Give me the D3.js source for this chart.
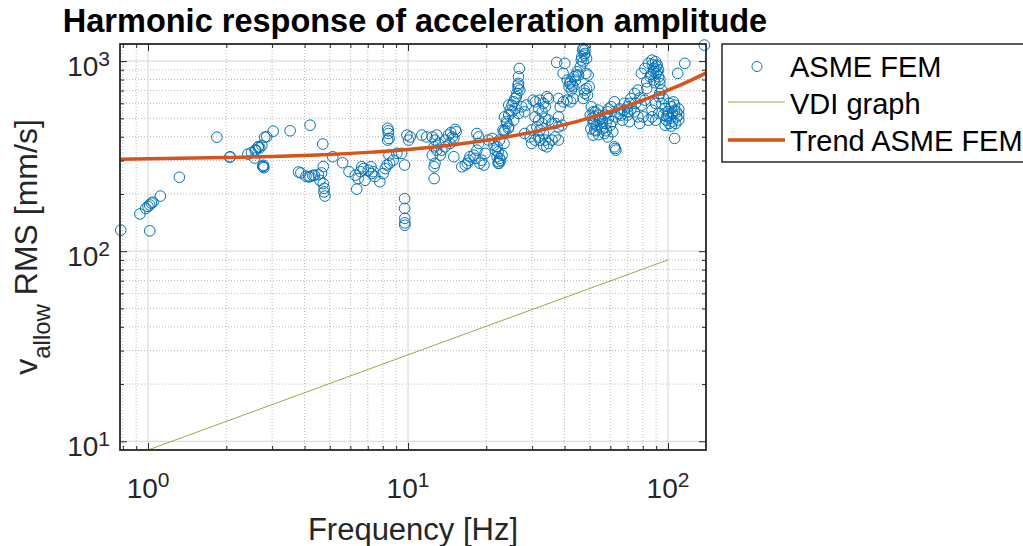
<!DOCTYPE html>
<html>
<head>
<meta charset="utf-8">
<script src="https://cdn.jsdelivr.net/npm/d3@7"></script>
<style>
  body { margin: 0; background: #fff; }
  text { font-family: "Liberation Sans", Arial, sans-serif; fill: #262626; }
</style>
</head>
<body>
<svg id="chart" width="1023" height="546"></svg>
<script>
// ASME FEM results [frequency Hz, v_allow RMS mm/s]
const asmePoints = [
  [0.785,129],[1.015,128],[0.93,157],[0.98,168],[1.015,175],[1.03,179],[1.045,181],[1.0,172],
  [1.115,195],[1.32,245],[1.84,398],[2.06,312],[2.07,314],[2.42,324],[2.5,330],[2.58,340],
  [2.57,309],[2.6,340],[2.65,352],[2.69,350],[2.66,355],[2.74,360],[2.81,398],[2.77,278],
  [2.78,283],[2.79,275],[2.76,280],[2.86,400],[3.03,428],[3.52,430],[3.79,261],[4.2,460],
  [4.7,366],[5.13,314],[5.6,292],[5.93,262],[6.35,212],[3.87,258],[4.05,248],[4.15,246],
  [4.2,247],[4.3,250],[4.36,251],[4.52,253],[4.65,258],[4.72,279],[4.58,236],[4.72,227],
  [4.76,214],[4.79,195],[4.75,205],[6.27,251],[6.56,262],[6.75,272],[6.43,241],[6.83,236],
  [7.03,267],[7.24,256],[7.45,247],[7.79,232],[7.2,278],[6.64,278],[7.35,262],[8.02,256],
  [8.35,443],[8.4,416],[8.45,392],[8.35,384],[8.4,430],[8.45,320],[8.3,284],[8.5,290],
  [8.17,272],[8.77,301],[9.06,327],[9.45,327],[9.7,284],[9.7,189],[9.7,168],[9.72,149],
  [9.72,141],[9.72,137],[9.9,408],[10.2,399],[10.05,384],
  [11.3,408],[11.8,399],[12.4,399],[12.9,408],[12.7,384],[13.1,369],[12.6,354],[12.9,340],
  [13.5,340],[12.4,320],[12.7,290],[12.6,278],[12.6,241],[13.3,320],[13.9,384],[14.3,408],
  [14.8,399],[15.2,437],[15.0,392],[14.5,369],[15.0,314],[13.9,354],[14.6,420],[15.3,425],
  [16.1,278],[16.6,284],[16.9,290],[17.1,301],[17.3,314],[17.9,320],[18.1,308],[18.4,340],
  [18.7,369],[18.7,399],[18.4,416],[18.9,290],[19.6,284],[19.2,301],[19.8,327],[20.4,384],
  [21.1,392],[21.7,340],[22.0,314],[22.3,296],[22.7,301],[23.0,320],[22.4,290],[23.4,369],
  [22.0,354],[21.4,361],[22.2,333],[22.5,308],[22.2,290],[22.5,384],
  [23.6,434],[24.0,470],[24.4,520],[24.7,552],[25.1,587],[25.5,611],[25.8,636],[26.2,676],
  [26.5,718],[26.6,763],[26.6,827],[26.8,915],[26.5,748],[26.9,704],[26.1,649],[24.4,587],
  [25.1,541],[25.8,563],[26.6,530],[25.5,489],[23.4,425],[24.4,451],[23.9,480],[23.2,434],
  [24.3,443],[23.5,509],[27.4,575],[28.1,541],[28.5,587],[28.1,416],[29.5,399],[29.9,434],
  [30.3,623],[30.9,611],[32.2,623],[33.2,599],[33.7,575],[34.2,649],[34.7,636],[31.8,563],
  [32.8,541],[33.7,500],[34.7,489],[35.8,470],[36.8,470],[37.9,451],[31.3,451],[32.2,434],
  [33.2,416],[33.7,384],[34.7,369],[35.8,384],[36.8,399],[37.9,384],[32.2,384],[33.2,361],
  [34.2,354],[31.8,489],[30.8,509],[32.8,470],[30.8,384],[29.9,369],[31.8,399],[37.3,984],
  [37.9,636],[38.5,575],[37.9,509],[39.1,460],[39.6,611],[42.2,611],
  [40.1,973],[39.5,862],[41.0,794],[41.9,763],[43.1,733],[42.5,704],[40.9,623],[43.1,636],
  [44.3,844],[47.0,1143],[47.6,1075],[46.4,1012],[48.3,862],[49.8,733],[47.6,704],[49.0,662],
  [47.2,1166],[47.9,1097],[48.6,1033],[47.2,992],[46.0,933],[44.7,879],[43.5,827],[42.2,778],
  [41.6,733],[42.8,748],[44.1,794],[45.3,844],[46.6,1053],[47.9,1143],[49.3,844],[48.6,718],
  [47.9,676],[47.2,636],
  [50.7,575],[51.5,541],[52.3,509],[51.5,470],[52.3,434],[51.5,408],[53.9,552],[54.6,489],
  [55.4,451],[57.0,416],[58.6,399],[57.8,470],[58.6,541],[60.4,575],[62.2,611],[63.0,509],
  [61.3,425],[62.2,354],[63.0,340],[62.6,347],[50.2,520],[51,500],[52,480],[53,460],
  [53,430],[54,520],[55,500],[56,440],[56,480],[57,520],[58,430],[59,500],[60,460],[61,480],
  [50.5,440],[52.5,540],[54,410],[59,560],
  [65.0,530],[66.8,489],[67.8,552],[69.9,575],[71.0,599],[72.0,636],[74.3,676],[76.6,704],
  [65,560],[68,600],[72,560],[75,600],[78,640],[66,520],[70,540],
  [79.0,862],[81.5,915],[84.1,973],[86.8,1012],[89.6,992],[91.0,953],[88.2,915],[91.0,879],
  [92.0,827],[93.0,763],[94.5,704],[92.0,649],[89.6,599],[86.8,552],[89.6,489],[92.0,530],
  [81.5,623],[79.0,587],[76.6,509],[74.3,541],[71.0,480],[69.9,520],[87,960],[90,940],
  [92,900],[88,880],[86,850],[90,860],[93,800],[89,770],
  [94.5,599],[97.5,563],[100,541],[103,575],[106,587],[108,509],[104,480],[101,470],
  [98.5,489],[97.5,460],[106,392],[100,520],[102,500],[104,530],[106,550],[108,540],
  [110,520],[110,490],[107,470],[103,455],[99,510],[96,520],[101,600],[105,610],[110,560],
  [109,862],[116,973],[138,1214],[84.1,489],[86.8,509],[80.2,509],[77.8,470],[82.8,778],
  [82.8,718],[85.4,827],[88.2,794],[93.0,676],[96.0,636]
];

// VDI guideline, read at a few frequencies
const vdiFreq = [1, 10, 100];
const vdiVel = [9, 28.5, 90];

// trend of the ASME FEM results
const trendFreq = [0.78, 1, 2, 3, 5, 7, 10, 15, 20, 30, 40, 50, 60, 70, 80, 90, 100, 120, 140];
const trendVel = [305, 306, 311, 315, 323, 331, 343, 363, 383, 423, 463, 503, 543, 583, 623, 663, 703, 783, 865];

// ticks
const majorX = [1, 10, 100];
const minorX = [0.8, 0.9, 2, 3, 4, 5, 6, 7, 8, 9, 20, 30, 40, 50, 60, 70, 80, 90];
const majorY = [10, 100, 1000];
const minorY = [20, 30, 40, 50, 60, 70, 80, 90, 200, 300, 400, 500, 600, 700, 800, 900];

const legendLabels = ["ASME FEM", "VDI graph", "Trend ASME FEM"];

const blue = "#0072BD", green = "#77AC30", orange = "#D95319", axisCol = "#262626";

const svg = d3.select("#chart");
const pLeft = 120, pRight = 706, pTop = 44, pBottom = 450;

const x = d3.scaleLog().domain([0.78, 140]).range([pLeft, pRight]);
const y = d3.scaleLog().domain([9, 1230]).range([pBottom, pTop]);

// grid lines
const grid = svg.append("g");
grid.selectAll(".gxm").data(minorX).enter().append("line")
  .attr("x1", d => x(d)).attr("x2", d => x(d)).attr("y1", pTop).attr("y2", pBottom)
  .attr("stroke", "#b8b8b8").attr("stroke-width", 1).attr("stroke-dasharray", "1,2");
grid.selectAll(".gym").data(minorY).enter().append("line")
  .attr("y1", d => y(d)).attr("y2", d => y(d)).attr("x1", pLeft).attr("x2", pRight)
  .attr("stroke", "#b8b8b8").attr("stroke-width", 1).attr("stroke-dasharray", "1,2");
grid.selectAll(".gx").data(majorX).enter().append("line")
  .attr("x1", d => x(d)).attr("x2", d => x(d)).attr("y1", pTop).attr("y2", pBottom)
  .attr("stroke", "#dcdcdc").attr("stroke-width", 1.2);
grid.selectAll(".gy").data(majorY).enter().append("line")
  .attr("y1", d => y(d)).attr("y2", d => y(d)).attr("x1", pLeft).attr("x2", pRight)
  .attr("stroke", "#dcdcdc").attr("stroke-width", 1.2);

// scatter
svg.append("g").selectAll("circle").data(asmePoints).enter().append("circle")
  .attr("cx", d => x(d[0])).attr("cy", d => y(d[1])).attr("r", 5.3)
  .attr("fill", "none").attr("stroke", blue).attr("stroke-width", 1);

// VDI line
const vdiData = vdiFreq.map((f, i) => [f, vdiVel[i]]);
svg.append("path").datum(vdiData)
  .attr("d", d3.line().x(d => x(d[0])).y(d => y(d[1])))
  .attr("fill", "none").attr("stroke", green).attr("stroke-width", 0.9);

// trend line
const trendData = trendFreq.map((f, i) => [f, trendVel[i]]);
svg.append("path").datum(trendData)
  .attr("d", d3.line().x(d => x(d[0])).y(d => y(d[1])).curve(d3.curveMonotoneX))
  .attr("fill", "none").attr("stroke", orange).attr("stroke-width", 3.5);

// ticks (inward, all four sides)
function ticks(axisFn, vals, size, tr) {
  const g = svg.append("g").attr("transform", tr)
    .call(axisFn.tickValues(vals).tickSizeInner(size).tickSizeOuter(0).tickFormat(""));
  g.select(".domain").remove();
  g.selectAll("line").attr("stroke", axisCol).attr("stroke-width", 1);
}
ticks(d3.axisBottom(x), majorX, -7, `translate(0,${pBottom})`);
ticks(d3.axisBottom(x), minorX, -4, `translate(0,${pBottom})`);
ticks(d3.axisTop(x), majorX, -7, `translate(0,${pTop})`);
ticks(d3.axisTop(x), minorX, -4, `translate(0,${pTop})`);
ticks(d3.axisLeft(y), majorY, -7, `translate(${pLeft},0)`);
ticks(d3.axisLeft(y), minorY, -4, `translate(${pLeft},0)`);
ticks(d3.axisRight(y), majorY, -7, `translate(${pRight},0)`);
ticks(d3.axisRight(y), minorY, -4, `translate(${pRight},0)`);

// box
svg.append("rect").attr("x", pLeft).attr("y", pTop)
  .attr("width", pRight - pLeft).attr("height", pBottom - pTop)
  .attr("fill", "none").attr("stroke", axisCol).attr("stroke-width", 1.8);

// tick labels 10^n
majorX.forEach(v => {
  const t = svg.append("text").attr("x", x(v)).attr("y", 498)
    .attr("text-anchor", "middle").style("font-size", "28px");
  t.append("tspan").text("10");
  t.append("tspan").attr("dy", -11).style("font-size", "21px").text(Math.round(Math.log10(v)));
});
majorY.forEach(v => {
  const t = svg.append("text").attr("x", 110).attr("y", y(v) + 15)
    .attr("text-anchor", "end").style("font-size", "28px");
  t.append("tspan").text("10");
  t.append("tspan").attr("dy", -10).style("font-size", "21px").text(Math.round(Math.log10(v)));
});

// axis labels and title
svg.append("text").attr("x", (pLeft + pRight) / 2).attr("y", 540)
  .attr("text-anchor", "middle").style("font-size", "31px").text("Frequency [Hz]");

const yl = svg.append("text").attr("transform", `translate(37,${(pTop + pBottom) / 2}) rotate(-90)`)
  .attr("text-anchor", "middle").style("font-size", "32px");
yl.append("tspan").text("v");
yl.append("tspan").attr("dy", 13).style("font-size", "24px").text("allow");
yl.append("tspan").attr("dy", -13).text(" RMS [mm/s]");

svg.append("text").attr("x", (pLeft + pRight) / 2 + 2).attr("y", 32)
  .attr("text-anchor", "middle").style("font-size", "32.5px").style("font-weight", "bold")
  .style("fill", "#000").text("Harmonic response of acceleration amplitude");

// legend
const leg = svg.append("g").attr("transform", "translate(722,44)");
leg.append("rect").attr("x", 0).attr("y", 0).attr("width", 330).attr("height", 118)
  .attr("fill", "#fff").attr("stroke", axisCol).attr("stroke-width", 1.5);
leg.append("circle").attr("cx", 35).attr("cy", 22.5).attr("r", 5)
  .attr("fill", "none").attr("stroke", blue).attr("stroke-width", 1);
leg.append("line").attr("x1", 6).attr("x2", 63).attr("y1", 58).attr("y2", 58)
  .attr("stroke", green).attr("stroke-width", 0.9);
leg.append("line").attr("x1", 6).attr("x2", 63).attr("y1", 96).attr("y2", 96)
  .attr("stroke", orange).attr("stroke-width", 3.5);
leg.selectAll(".lt").data(legendLabels).enter().append("text")
  .attr("x", 68).attr("y", (d, i) => 33 + i * 37)
  .style("font-size", "29px").style("fill", "#000").text(d => d);
</script>
</body>
</html>
